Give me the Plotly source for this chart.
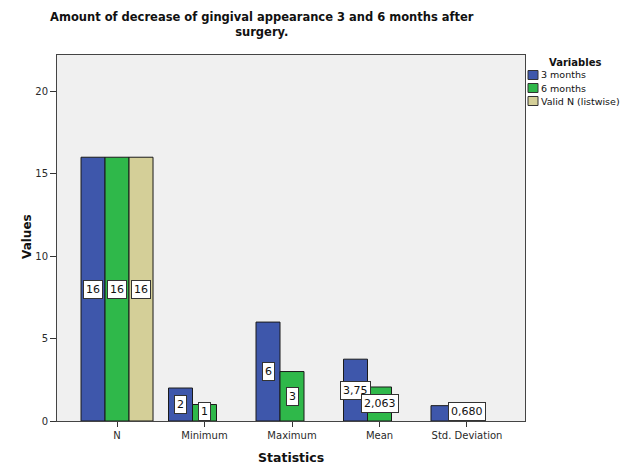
import plotly.graph_objects as go

categories = ["N", "Minimum", "Maximum", "Mean", "Std. Deviation"]
months3 = [16, 2, 6, 3.75, 0.93]
months6 = [16, 1, 3, 2.063, 0.680]
validn = [16, None, None, None, None]
labels3 = ["16", "2", "6", "3,75", None]
labels6 = ["16", "1", "3", "2,063", "0,680"]
labelsv = ["16", None, None, None, None]
series_names = ["3 months", "6 months", "Valid N (listwise)"]
colors = ["#3e57ab", "#2fb84a", "#d4cf98"]
ytick_vals = [0, 5, 10, 15, 20]

W, H = 629, 468
L, R, T, B = 57, 525, 55, 421
PW, PH = R - L, B - T
FONT = "DejaVu Sans"


def px_x(px):
    return (px - L) / PW


def px_y(py):
    return (B - py) / PH


fig = go.Figure()
bargap = 0.177
slot = (1 - bargap) / 3
annotations = []
shapes = []
for k, (name, vals, labs, color) in enumerate(zip(series_names, [months3, months6, validn],
                                                   [labels3, labels6, labelsv], colors)):
    off = k - 1
    fig.add_trace(go.Bar(
        x=list(range(len(categories))), y=vals, name=name, showlegend=False,
        marker=dict(color=color, line=dict(color="#1a1a1a", width=1)),
        hoverinfo="skip",
    ))
    for i, (v, lab) in enumerate(zip(vals, labs)):
        if lab is None:
            continue
        annotations.append(dict(
            x=i + off * slot, y=max(v / 2, 0.58), xref="x", yref="y", text=lab,
            showarrow=False, bgcolor="white", bordercolor="#333333", borderwidth=1,
            borderpad=2, font=dict(size=11, color="#111111", family=FONT),
        ))

# title
annotations.append(dict(
    x=px_x(262), y=px_y(8), xref="paper", yref="paper", xanchor="center", yanchor="top",
    text="<b>Amount of decrease of gingival appearance 3 and 6 months after<br>surgery.</b>",
    showarrow=False, font=dict(size=11.5, color="#111111", family=FONT),
))
# axis titles
annotations.append(dict(
    x=px_x(291), y=px_y(457), xref="paper", yref="paper", xanchor="center", yanchor="middle",
    text="<b>Statistics</b>", showarrow=False, font=dict(size=12.5, color="#111111", family=FONT),
))
annotations.append(dict(
    x=px_x(27), y=px_y(237), xref="paper", yref="paper", xanchor="center", yanchor="middle",
    text="<b>Values</b>", textangle=-90, showarrow=False,
    font=dict(size=12, color="#111111", family=FONT),
))
# legend
annotations.append(dict(
    x=px_x(575), y=px_y(62), xref="paper", yref="paper", xanchor="center", yanchor="middle",
    text="<b>Variables</b>", showarrow=False, font=dict(size=10, color="#111111", family=FONT),
))
row_y = [75, 88, 101]
for name, color, ry in zip(series_names, colors, row_y):
    shapes.append(dict(
        type="rect", xref="paper", yref="paper",
        x0=px_x(528), x1=px_x(538), y0=px_y(ry - 4.5), y1=px_y(ry + 4.5),
        fillcolor=color, line=dict(color="#333333", width=1),
    ))
    annotations.append(dict(
        x=px_x(539), y=px_y(ry), xref="paper", yref="paper", xanchor="left", yanchor="middle",
        text=name, showarrow=False, font=dict(size=9.5, color="#111111", family=FONT),
    ))

fig.update_layout(
    width=W, height=H,
    margin=dict(l=L, r=W - R, t=T, b=H - B, autoexpand=False),
    paper_bgcolor="white", plot_bgcolor="#f0f0f0",
    barmode="group", bargap=bargap, bargroupgap=0,
    font=dict(family=FONT, size=10, color="#333333"),
    showlegend=False,
    hovermode=False,
    xaxis=dict(
        tickmode="array", tickvals=list(range(len(categories))), ticktext=categories,
        range=[-0.686, 4.663], showgrid=False, zeroline=False,
        ticks="outside", ticklen=5, tickcolor="#333333",
        showline=True, linecolor="#444444", linewidth=1, mirror=True,
        tickfont=dict(size=10, color="#2a2a2a"),
    ),
    yaxis=dict(
        range=[0, 22.2], tickmode="array", tickvals=ytick_vals, showgrid=False, zeroline=False,
        ticks="outside", ticklen=6, tickcolor="#333333",
        showline=True, linecolor="#444444", linewidth=1, mirror=True,
        tickfont=dict(size=10, color="#2a2a2a"),
    ),
    annotations=annotations,
    shapes=shapes,
)

fig.write_html("out.html", config={"displayModeBar": False},
               post_script="document.body.style.margin='0px';")
